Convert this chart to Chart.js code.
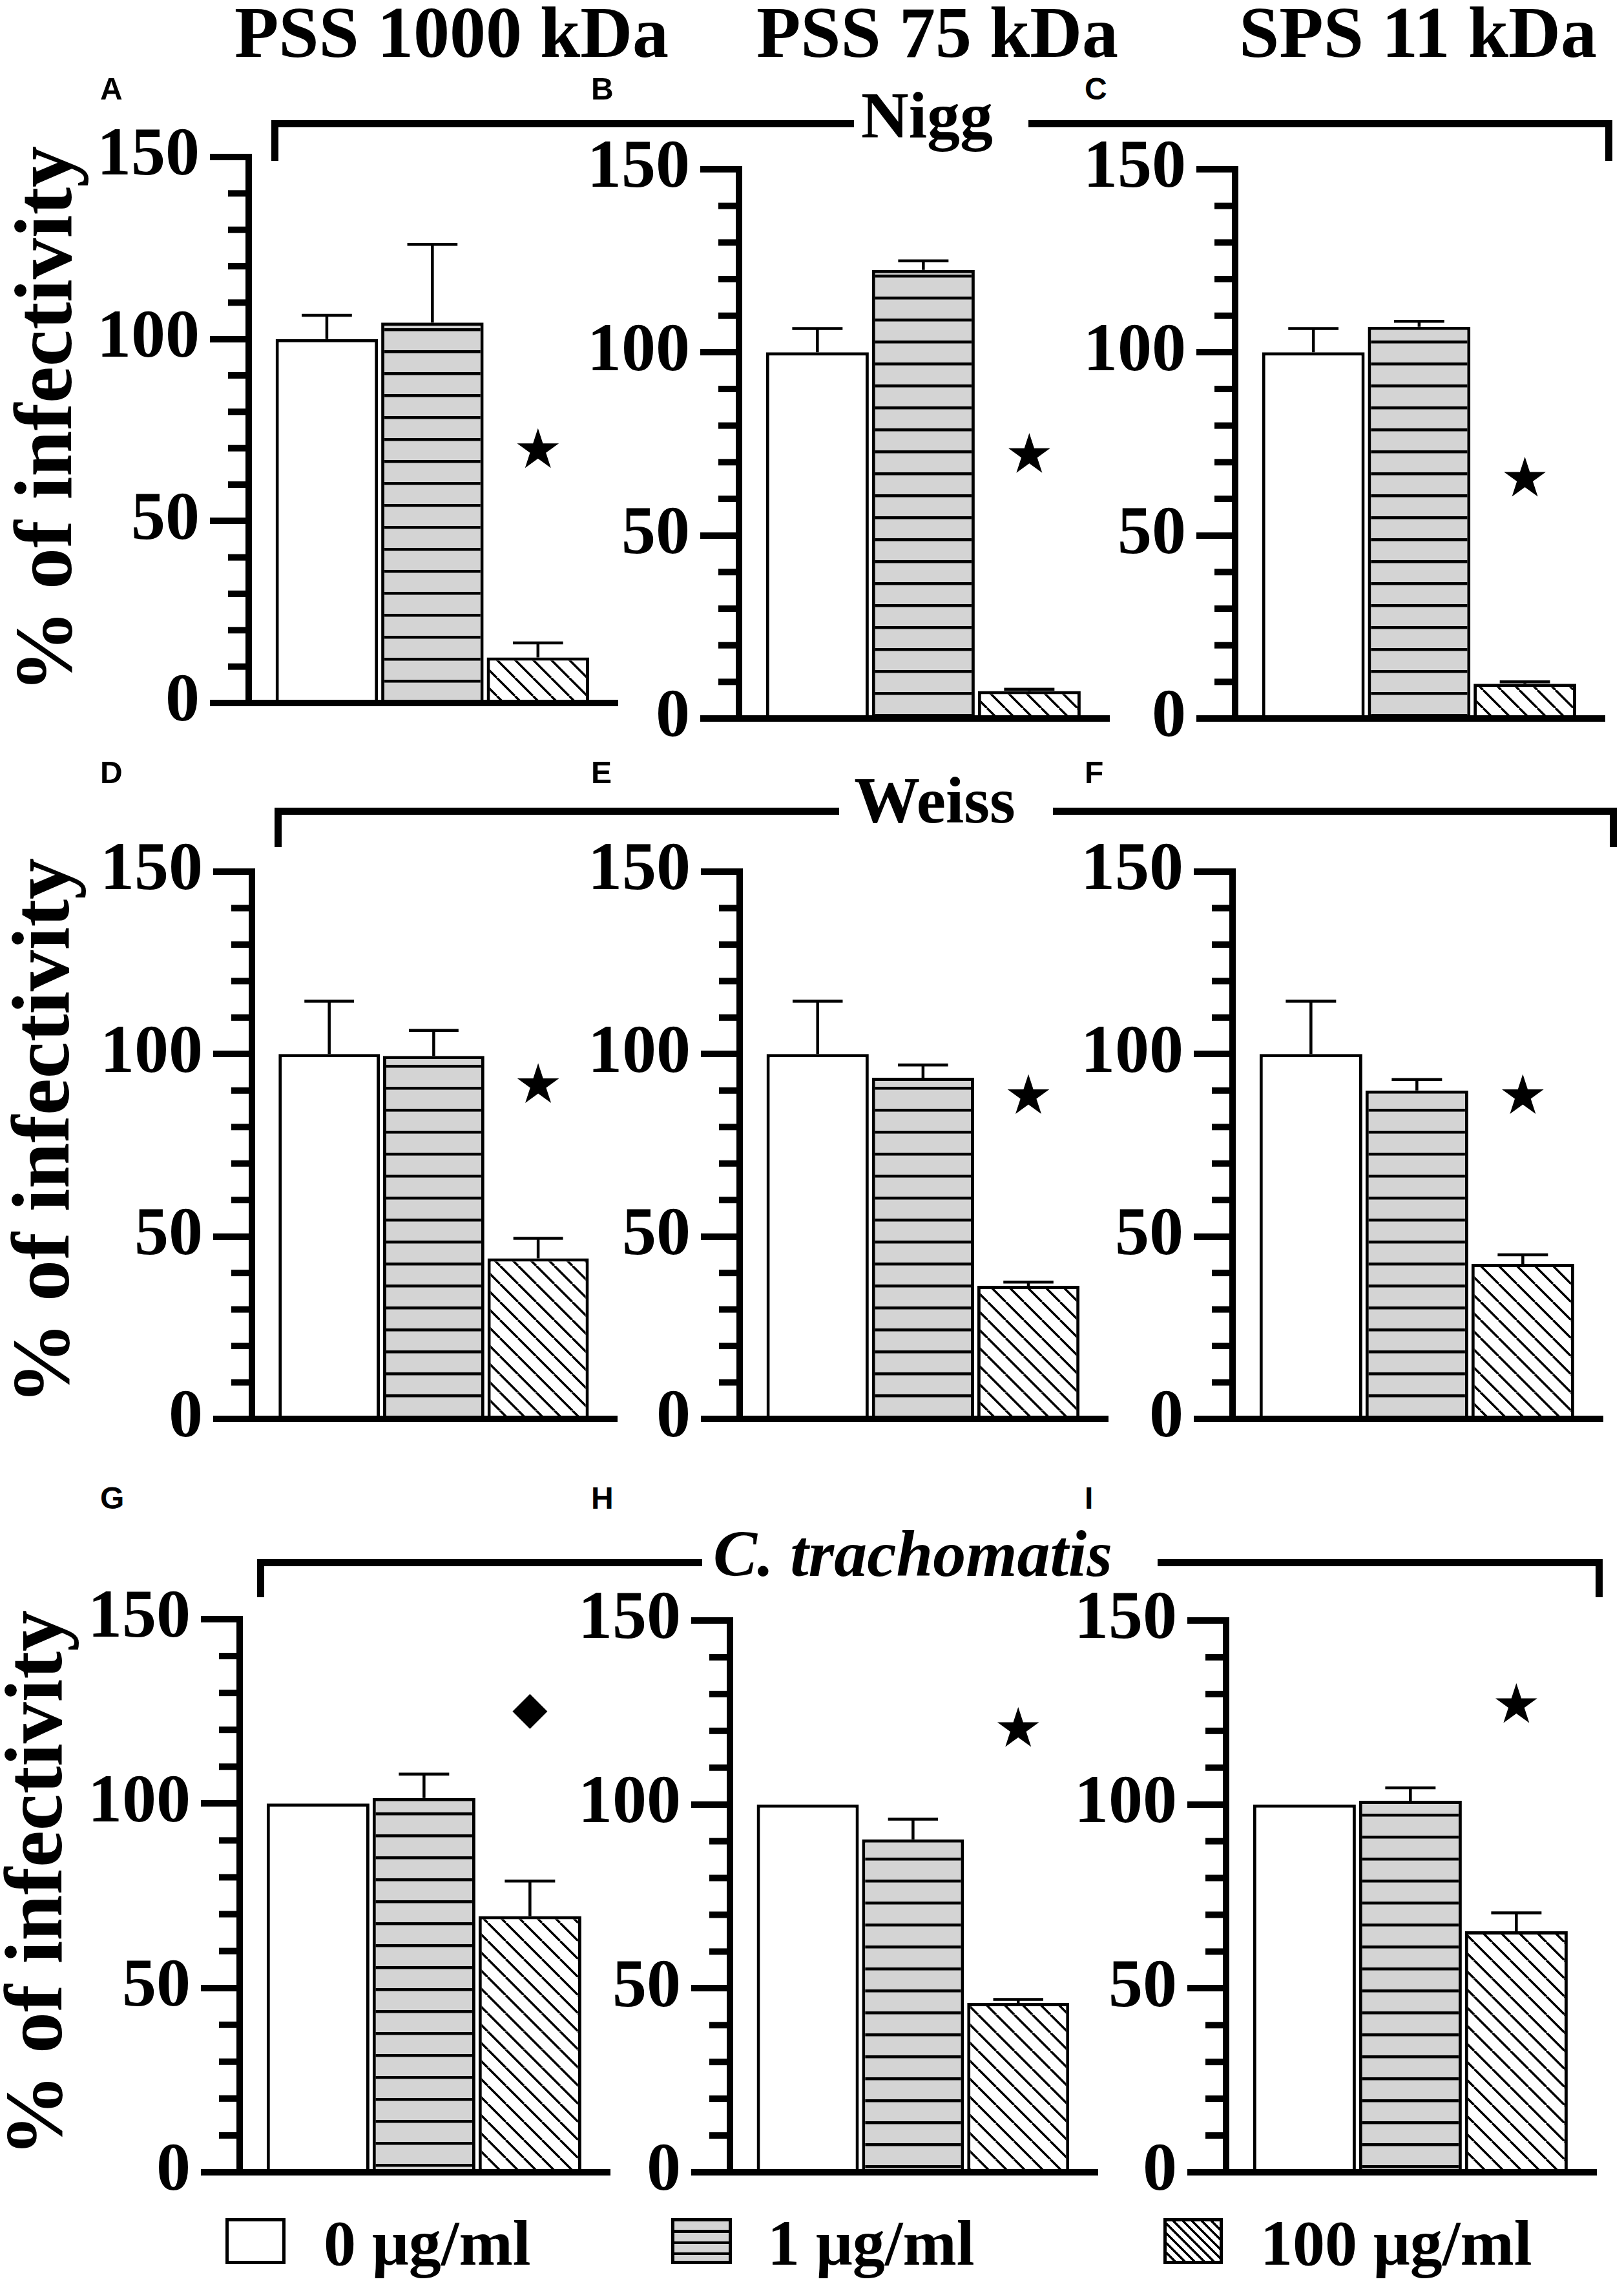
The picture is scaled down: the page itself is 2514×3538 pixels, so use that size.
<!DOCTYPE html>
<html>
<head>
<meta charset="utf-8">
<title>% of infectivity</title>
<script src="https://cdn.jsdelivr.net/npm/chart.js@4.4.1/dist/chart.umd.min.js"></script>
<style>
  html, body { margin: 0; padding: 0; background: #fff; }
  body { position: relative; width: 2514px; height: 3538px; overflow: hidden; }
  canvas { position: absolute; }
  .txt {
    position: absolute; white-space: nowrap; line-height: 1; color: #000; font-weight: bold;
    font-family: "Liberation Serif", "Times New Roman", serif;
  }
  .letter { font-family: "Liberation Sans", Arial, sans-serif; }
  .bracket { position: absolute; box-sizing: border-box; border: 0 solid #000; }
  .swatch { position: absolute; box-sizing: border-box; border: 5px solid #000; }
</style>
</head>
<body>
<script>
// labels
const doses = ["0 μg/ml", "1 μg/ml", "100 μg/ml"];
const compounds = ["PSS 1000 kDa", "PSS 75 kDa", "SPS 11 kDa"];
const strains = ["Nigg", "Weiss", "C. trachomatis"];
const panelLetters = ["A", "B", "C", "D", "E", "F", "G", "H", "I"];
const yTicks = [0, 50, 100, 150];

// Nigg (% of infectivity, mean and upper error)
const niggPss1000 = [100, 104.5, 12.5];
const niggPss1000Err = [6.5, 21.5, 4];
const niggPss75 = [100, 122.5, 7.5];
const niggPss75Err = [6.5, 2.5, 0.5];
const niggSps11 = [100, 107, 9.5];
const niggSps11Err = [6.5, 1.5, 0.5];

// Weiss
const weissPss1000 = [100, 99.5, 44];
const weissPss1000Err = [14.5, 7, 5.5];
const weissPss75 = [100, 93.5, 36.5];
const weissPss75Err = [14.5, 3.5, 1];
const weissSps11 = [100, 90, 42.5];
const weissSps11Err = [14.5, 3, 2.5];

// C. trachomatis
const ctrPss1000 = [100, 101.5, 69.5];
const ctrPss1000Err = [0, 6.5, 9.5];
const ctrPss75 = [100, 90.5, 46];
const ctrPss75Err = [0, 5.5, 1];
const ctrSps11 = [100, 101, 65.5];
const ctrSps11Err = [0, 3.5, 5];

// significance marks (height in % units) over the 100 ug/ml bar
const niggMarks = [70, 72.5, 66];
const weissMarks = [92, 89, 89];
const ctrMarks = [125, 121, 127.5];
const ctrMarkShapes = ["diamond", "star", "star"];

// panel placement on the page
const panels = [
  { values: niggPss1000, err: niggPss1000Err, mark: niggMarks[0], shape: "star", axisX: 385, top: 243, bottom: 1088, right: 957 },
  { values: niggPss75, err: niggPss75Err, mark: niggMarks[1], shape: "star", axisX: 1144, top: 262, bottom: 1112, right: 1718 },
  { values: niggSps11, err: niggSps11Err, mark: niggMarks[2], shape: "star", axisX: 1912, top: 262, bottom: 1112, right: 2485 },
  { values: weissPss1000, err: weissPss1000Err, mark: weissMarks[0], shape: "star", axisX: 390, top: 1349, bottom: 2196, right: 956 },
  { values: weissPss75, err: weissPss75Err, mark: weissMarks[1], shape: "star", axisX: 1145, top: 1349, bottom: 2196, right: 1716 },
  { values: weissSps11, err: weissSps11Err, mark: weissMarks[2], shape: "star", axisX: 1908, top: 1349, bottom: 2196, right: 2482 },
  { values: ctrPss1000, err: ctrPss1000Err, mark: ctrMarks[0], shape: ctrMarkShapes[0], axisX: 371, top: 2506, bottom: 3362, right: 945 },
  { values: ctrPss75, err: ctrPss75Err, mark: ctrMarks[1], shape: ctrMarkShapes[1], axisX: 1130, top: 2508, bottom: 3362, right: 1700 },
  { values: ctrSps11, err: ctrSps11Err, mark: ctrMarks[2], shape: ctrMarkShapes[2], axisX: 1898, top: 2508, bottom: 3362, right: 2472 },
];

function addText(str, x, baseline, size, opts) {
  opts = opts || {};
  const d = document.createElement("div");
  d.className = "txt" + (opts.sans ? " letter" : "");
  d.textContent = str;
  d.style.fontSize = size + "px";
  d.style.top = (baseline - (opts.sans ? 0.8465 : 0.8375) * size) + "px";
  d.style.left = x + "px";
  if (opts.center) d.style.transform = "translateX(-50%)";
  if (opts.italic) d.style.fontStyle = "italic";
  document.body.appendChild(d);
  return d;
}

function addBracket(x0, x1, y, legBottom, gapL, gapR, w) {
  const l = document.createElement("div");
  l.className = "bracket";
  l.style.left = (x0 - w / 2) + "px";
  l.style.top = (y - w / 2) + "px";
  l.style.width = (gapL - x0 + w / 2) + "px";
  l.style.height = (legBottom - y + w / 2) + "px";
  l.style.borderTopWidth = w + "px";
  l.style.borderLeftWidth = w + "px";
  document.body.appendChild(l);
  const r = document.createElement("div");
  r.className = "bracket";
  r.style.left = gapR + "px";
  r.style.top = (y - w / 2) + "px";
  r.style.width = (x1 + w / 2 - gapR) + "px";
  r.style.height = (legBottom - y + w / 2) + "px";
  r.style.borderTopWidth = w + "px";
  r.style.borderRightWidth = w + "px";
  document.body.appendChild(r);
}

// bar fills
function stripeFill(ctx) {
  const c = document.createElement("canvas");
  c.width = 34; c.height = 34;
  const g = c.getContext("2d");
  g.fillStyle = "#d4d4d4";
  g.fillRect(0, 0, 34, 34);
  g.fillStyle = "#000";
  g.fillRect(0, 15, 34, 4.5);
  return ctx.createPattern(c, "repeat");
}

function hatchFill(ctx) {
  const s = 28;
  const c = document.createElement("canvas");
  c.width = s; c.height = s;
  const g = c.getContext("2d");
  g.fillStyle = "#fff";
  g.fillRect(0, 0, s, s);
  g.strokeStyle = "#000";
  g.lineWidth = 3.5;
  g.beginPath();
  [-s, 0, s].forEach((k) => {
    g.moveTo(k, 0);
    g.lineTo(k + s, s);
  });
  g.stroke();
  return ctx.createPattern(c, "repeat");
}

function drawStar(ctx, cx, cy, r) {
  ctx.beginPath();
  for (let k = 0; k < 10; k++) {
    const rr = k % 2 ? r * 0.382 : r;
    const a = -Math.PI / 2 + (k * Math.PI) / 5;
    ctx.lineTo(cx + rr * Math.cos(a), cy + rr * Math.sin(a));
  }
  ctx.closePath();
  ctx.fill();
}

function drawDiamond(ctx, cx, cy, r) {
  ctx.beginPath();
  ctx.moveTo(cx, cy - r);
  ctx.lineTo(cx + r, cy);
  ctx.lineTo(cx, cy + r);
  ctx.lineTo(cx - r, cy);
  ctx.closePath();
  ctx.fill();
}

// minor ticks, baseline, error bars and marks
const panelDecor = {
  id: "panelDecor",
  afterDatasetsDraw(chart, args, opts) {
    const ctx = chart.ctx;
    const y = chart.scales.y;
    const area = chart.chartArea;
    const meta = chart.getDatasetMeta(0);
    const values = chart.data.datasets[0].data;
    ctx.save();
    ctx.strokeStyle = "#000";
    ctx.fillStyle = "#000";
    ctx.lineCap = "butt";

    // minor ticks every 10
    ctx.lineWidth = 10;
    for (let v = 10; v < 150; v += 10) {
      if (v % 50 === 0) continue;
      const py = y.getPixelForValue(v);
      ctx.beginPath();
      ctx.moveTo(area.left - 32, py);
      ctx.lineTo(area.left, py);
      ctx.stroke();
    }

    // x axis line
    const py0 = y.getPixelForValue(0);
    ctx.beginPath();
    ctx.moveTo(area.left - 60, py0);
    ctx.lineTo(area.right, py0);
    ctx.stroke();

    // error bars (upper only)
    ctx.lineWidth = 4.5;
    meta.data.forEach((bar, i) => {
      const e = opts.err[i];
      if (!e) return;
      const yTop = y.getPixelForValue(values[i].y + e);
      const half = bar.width * 0.245;
      ctx.beginPath();
      ctx.moveTo(bar.x, bar.y);
      ctx.lineTo(bar.x, yTop);
      ctx.moveTo(bar.x - half, yTop);
      ctx.lineTo(bar.x + half, yTop);
      ctx.stroke();
    });

    // significance mark
    const mx = meta.data[2].x;
    const my = y.getPixelForValue(opts.mark);
    if (opts.shape === "diamond") drawDiamond(ctx, mx, my, 27);
    else drawStar(ctx, mx, my + 3, 34);
    ctx.restore();
  },
};

panels.forEach((p) => {
  const plotW = p.right - p.axisX;
  const canvas = document.createElement("canvas");
  canvas.width = 260 + plotW + 12;
  canvas.height = p.bottom - p.top + 180;
  canvas.style.left = (p.axisX - 260) + "px";
  canvas.style.top = (p.top - 90) + "px";
  document.body.appendChild(canvas);
  const ctx = canvas.getContext("2d");

  new Chart(ctx, {
    type: "bar",
    data: {
      datasets: [
        {
          label: "% of infectivity",
          data: p.values.map((v, i) => ({ x: i, y: v })),
          backgroundColor: ["#fff", stripeFill(ctx), hatchFill(ctx)],
          borderColor: "#000",
          borderWidth: 5,
          barPercentage: 0.97,
          categoryPercentage: 1,
        },
      ],
    },
    options: {
      responsive: false,
      animation: false,
      devicePixelRatio: 1,
      layout: { padding: { left: 0, top: 90, right: 12, bottom: 90 } },
      plugins: {
        legend: { display: false },
        tooltip: { enabled: false },
        panelDecor: { err: p.err, mark: p.mark, shape: p.shape },
      },
      scales: {
        x: {
          type: "linear",
          display: false,
          offset: false,
          grid: { offset: false },
          min: -0.74,
          max: 2.76,
          ticks: { stepSize: 1, includeBounds: false },
        },
        y: {
          min: 0,
          max: 150,
          afterFit: (scale) => {
            scale.width = 260; // fixed so the axis sits where the figure has it
          },
          afterBuildTicks: (scale) => {
            scale.ticks = yTicks.map((v) => ({ value: v }));
          },
          ticks: {
            padding: 16,
            color: "#000",
            font: { family: '"Liberation Serif", serif', size: 106, weight: "bold" },
          },
          grid: {
            drawOnChartArea: false,
            drawTicks: true,
            tickLength: 60,
            lineWidth: 10,
            tickWidth: 10,
            color: "#000",
          },
          border: { display: true, width: 10, color: "#000" },
        },
      },
    },
    plugins: [panelDecor],
  });
});

// column titles
[699, 1451, 2195].forEach((cx, i) => addText(compounds[i], cx, 88, 112, { center: true }));

// panel letters
const letterX = [155, 915, 1679];
const letterBase = [155, 1213, 2336];
panelLetters.forEach((L, i) => {
  addText(L, letterX[i % 3], letterBase[Math.floor(i / 3)], 48, { sans: true });
});

// strain brackets
addBracket(425, 2490, 191, 249, 1322, 1592, 11);
addText(strains[0], 1435, 213, 102, { center: true });
addBracket(430, 2497, 1255, 1311, 1299, 1630, 11);
addText(strains[1], 1447, 1273, 102, { center: true });
addBracket(403, 2475, 2418, 2472, 1087, 1792, 11);
addText(strains[2], 1413, 2439, 102, { center: true, italic: true });

// y axis titles
[[67, 649], [63, 1751], [52, 2915]].forEach(([cx, cy]) => {
  const d = document.createElement("div");
  d.className = "txt";
  d.textContent = "% of infectivity";
  d.style.fontSize = "128px";
  d.style.left = cx + "px";
  d.style.top = cy + "px";
  d.style.transform = "translate(-50%, -50%) rotate(-90deg)";
  document.body.appendChild(d);
});

// legend
const swatchFills = [
  "#fff",
  "repeating-linear-gradient(to bottom, #d4d4d4 0px, #d4d4d4 13px, #000 13px, #000 17.5px)",
  "repeating-linear-gradient(45deg, #fff 0px, #fff 7px, #000 7px, #000 10.5px)",
];
const swatchBoxes = [[349, 93], [1039, 94], [1801, 92]];
const legendTextX = [501, 1188, 1951];
doses.forEach((lab, i) => {
  const s = document.createElement("div");
  s.className = "swatch";
  s.style.left = swatchBoxes[i][0] + "px";
  s.style.top = "3433px";
  s.style.width = swatchBoxes[i][1] + "px";
  s.style.height = "71px";
  s.style.background = swatchFills[i];
  document.body.appendChild(s);
  addText(lab, legendTextX[i], 3506, 100);
});
</script>
</body>
</html>
